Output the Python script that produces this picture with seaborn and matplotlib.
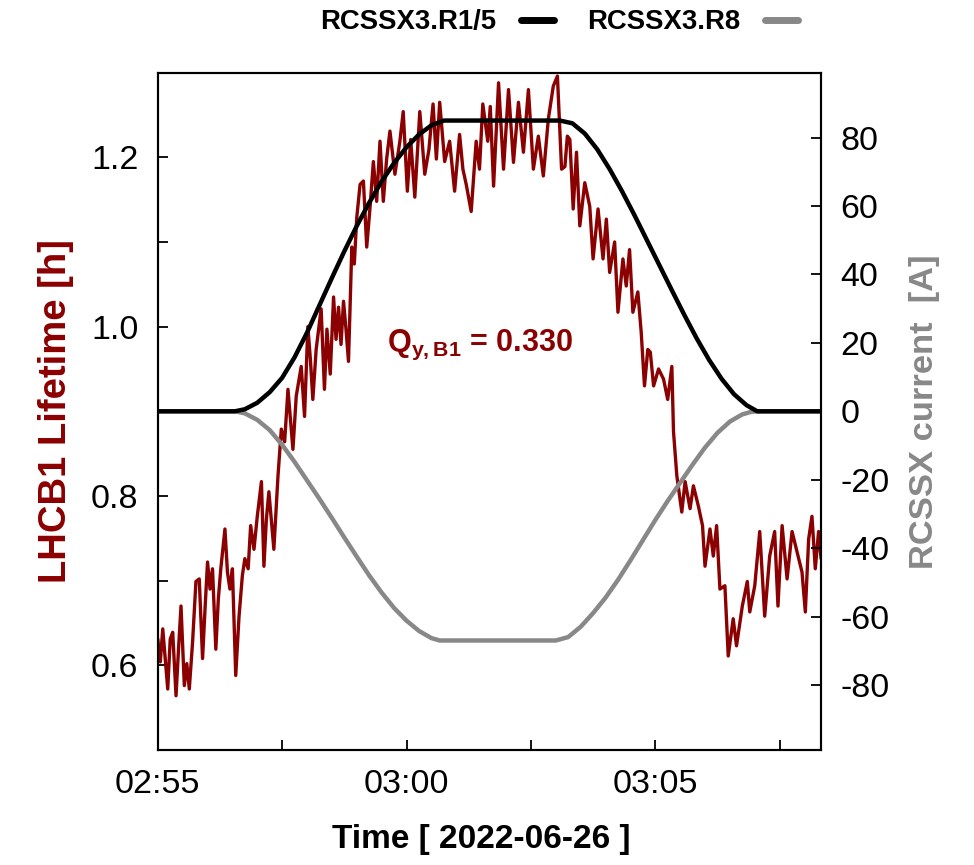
import matplotlib
matplotlib.use("Agg")
import matplotlib.pyplot as plt
import numpy as np
import seaborn as sns
import matplotlib.ticker as ticker
from matplotlib.lines import Line2D

# time in seconds after 02:55:00
t_life = [0, 3, 6, 9, 12, 15, 18, 22, 25, 28, 32, 35, 38, 42, 46, 50, 54, 57, 60, 63,
          66, 70, 73, 76, 81, 84, 87, 90, 94, 98, 102, 105, 109, 112, 116, 120, 125, 128, 131, 134,
          140, 145, 149, 153, 157, 160, 163, 167, 173, 177, 181, 184, 187, 191, 197, 201, 204, 208, 212, 215,
          218, 221, 224, 227, 230, 234, 237, 240, 244, 248, 252, 256, 260, 264, 268, 272, 276, 280, 286, 292,
          296, 301, 305, 310, 316, 322, 327, 332, 336, 340, 346, 352, 358, 364, 368, 372, 378, 384, 388, 392,
          398, 401, 405, 411, 417, 423, 429, 435, 441, 447, 453, 459, 465, 471, 477, 482, 487, 491, 494, 497,
          501, 505, 509, 515, 521, 525, 531, 537, 541, 545, 551, 555, 561, 565, 569, 573, 579, 583, 587, 591,
          594, 598, 604, 610, 615, 620, 622, 626, 632, 636, 642, 646, 652, 657, 660, 666, 670, 674, 678, 684,
          688, 694, 698, 705, 711, 714, 720, 726, 732, 738, 744, 748, 753, 759, 765, 771, 777, 781, 785, 789,
          793, 797, 800]
lifetime = [0.631, 0.604, 0.643, 0.608, 0.572, 0.631, 0.639, 0.564, 0.619, 0.670, 0.576, 0.602, 0.572, 0.628, 0.699, 0.702, 0.608, 0.667, 0.722, 0.690,
            0.714, 0.619, 0.678, 0.714, 0.761, 0.710, 0.690, 0.714, 0.588, 0.658, 0.706, 0.726, 0.714, 0.765, 0.737, 0.776, 0.817, 0.717, 0.773, 0.805,
            0.737, 0.824, 0.879, 0.864, 0.926, 0.891, 0.855, 0.918, 0.953, 0.894, 1.000, 0.962, 0.914, 0.973, 1.021, 0.926, 0.997, 0.944, 1.035, 0.985,
            1.023, 0.979, 1.030, 0.997, 0.959, 1.094, 1.074, 1.129, 1.168, 1.172, 1.094, 1.141, 1.195, 1.148, 1.219, 1.148, 1.198, 1.231, 1.180, 1.219,
            1.254, 1.160, 1.221, 1.153, 1.254, 1.180, 1.209, 1.263, 1.198, 1.265, 1.195, 1.219, 1.160, 1.227, 1.186, 1.168, 1.136, 1.219, 1.186, 1.263,
            1.219, 1.260, 1.166, 1.288, 1.186, 1.280, 1.194, 1.265, 1.206, 1.280, 1.186, 1.225, 1.178, 1.245, 1.284, 1.296, 1.186, 1.189, 1.225, 1.221,
            1.139, 1.206, 1.119, 1.170, 1.142, 1.080, 1.139, 1.080, 1.127, 1.064, 1.100, 1.017, 1.080, 1.048, 1.091, 1.017, 1.041, 0.994, 0.930, 0.973,
            0.970, 0.930, 0.950, 0.938, 0.914, 0.953, 0.876, 0.824, 0.781, 0.817, 0.785, 0.812, 0.788, 0.765, 0.717, 0.761, 0.729, 0.765, 0.690, 0.694,
            0.611, 0.655, 0.623, 0.670, 0.699, 0.663, 0.694, 0.758, 0.658, 0.729, 0.758, 0.670, 0.765, 0.702, 0.758, 0.734, 0.710, 0.663, 0.749, 0.776,
            0.714, 0.758, 0.726]

t_r15 = [0, 93, 105, 120, 135, 150, 165, 180, 195, 210, 225, 240, 255, 270, 285, 300, 315, 330, 345,
         485, 500, 515, 530, 545, 560, 575, 590, 605, 620, 635, 650, 665, 680, 695, 710, 723, 800]
i_r15 = [0, 0, 0.6, 2.5, 5.6, 9.8, 15.8, 23, 31, 39, 46.8, 54.2, 61, 67.2, 72.6, 77.2, 80.9, 83.6, 85,
         85, 84.2, 81.2, 76.6, 70.8, 64.3, 57.3, 50, 42.7, 35.4, 28.2, 21.3, 15, 9.5, 5, 1.8, 0, 0]

t_r8 = [0, 93, 105, 120, 135, 150, 165, 180, 195, 210, 225, 240, 255, 270, 285, 300, 315, 330, 340,
        480, 495, 510, 525, 540, 555, 570, 585, 600, 615, 630, 645, 660, 675, 690, 705, 715, 723, 800]
i_r8 = [0, 0, -0.6, -2.5, -5.5, -9.8, -14.8, -20.2, -25.6, -31.2, -36.9, -42.5, -48, -53, -57.5, -61.2, -64.2, -66.3, -67,
        -67, -66, -63, -59, -54.5, -49.3, -43.6, -37.7, -31.8, -26.2, -20.9, -15.6, -10.6, -6.3, -3, -0.9, -0.2, 0, 0]

x_ticks = [0, 150, 300, 450, 600, 750]
x_ticklabels = ["02:55", "", "03:00", "", "03:05", ""]
y_ticks = [0.6, 0.7, 0.8, 0.9, 1.0, 1.1, 1.2]
y_ticklabels = ["0.6", "", "0.8", "", "1.0", "", "1.2"]
y2_ticks = [-80, -60, -40, -20, 0, 20, 40, 60, 80]

RED = "#8b0000"
GREY = "#888888"

sns.set_style("white")
plt.rcParams["font.family"] = ["Liberation Sans", "DejaVu Sans"]
plt.rcParams["axes.unicode_minus"] = False
plt.rcParams["text.color"] = "black"
plt.rcParams["axes.labelcolor"] = "black"
plt.rcParams["xtick.color"] = "black"
plt.rcParams["ytick.color"] = "black"
plt.rcParams["mathtext.fontset"] = "custom"
plt.rcParams["mathtext.rm"] = "Liberation Sans"
plt.rcParams["mathtext.bf"] = "Liberation Sans:bold"

fig = plt.figure(figsize=(9.74, 8.65), dpi=100)
ax = fig.add_axes([0.162, 0.133, 0.681, 0.783])
ax2 = ax.twinx()

sns.lineplot(x=t_life, y=lifetime, ax=ax, color=RED, lw=2.4)
sns.lineplot(x=t_r8, y=i_r8, ax=ax2, color=GREY, lw=3.2)
sns.lineplot(x=t_r15, y=i_r15, ax=ax2, color="black", lw=3.2)

ax.set_xlim(0, 800)
ax.set_ylim(0.5, 1.3)
ax2.set_ylim(-99, 99)

ax.xaxis.set_major_locator(ticker.FixedLocator(x_ticks))
ax.set_xticklabels(x_ticklabels)
ax.yaxis.set_major_locator(ticker.FixedLocator(y_ticks))
ax.set_yticklabels(y_ticklabels)
ax2.yaxis.set_major_locator(ticker.FixedLocator(y2_ticks))

for a in (ax, ax2):
    for s in a.spines.values():
        s.set_visible(True)
        s.set_linewidth(1.5)
        s.set_color("black")
ax.tick_params(axis="both", direction="in", length=7, width=1.3, labelsize=24.5, pad=14,
               left=True, bottom=True, right=False, top=False)
ax2.tick_params(axis="y", direction="in", length=7, width=1.3, labelsize=24.5, pad=14,
                right=True, left=False)

ax.set_xlabel("Time [ 2022-06-26 ]", fontsize=24, fontweight="bold")
ax.xaxis.set_label_coords(0.488, -0.11)
ax.set_ylabel("LHCB1 Lifetime [h]", fontsize=27.5, fontweight="bold", color=RED, labelpad=12)
ax2.set_ylabel("RCSSX current  [A]", fontsize=24.8, fontweight="bold", color=GREY, labelpad=14)

ax.text(0.486, 0.598, r"$\mathbf{Q_{y,B1}}$ = 0.330", transform=ax.transAxes,
        ha="center", va="center", fontsize=22, fontweight="bold", color=RED)

handles = [Line2D([], [], color="black", lw=5), Line2D([], [], color=GREY, lw=5)]
fig.legend(handles, ["RCSSX3.R1/5", "RCSSX3.R8"], loc="center", bbox_to_anchor=(0.574, 0.974),
           ncol=2, frameon=False, markerfirst=False, handlelength=1.2, handletextpad=0.9,
           columnspacing=1.2, prop={"weight": "bold", "size": 19.8})

plt.savefig("out.png", dpi=100)
